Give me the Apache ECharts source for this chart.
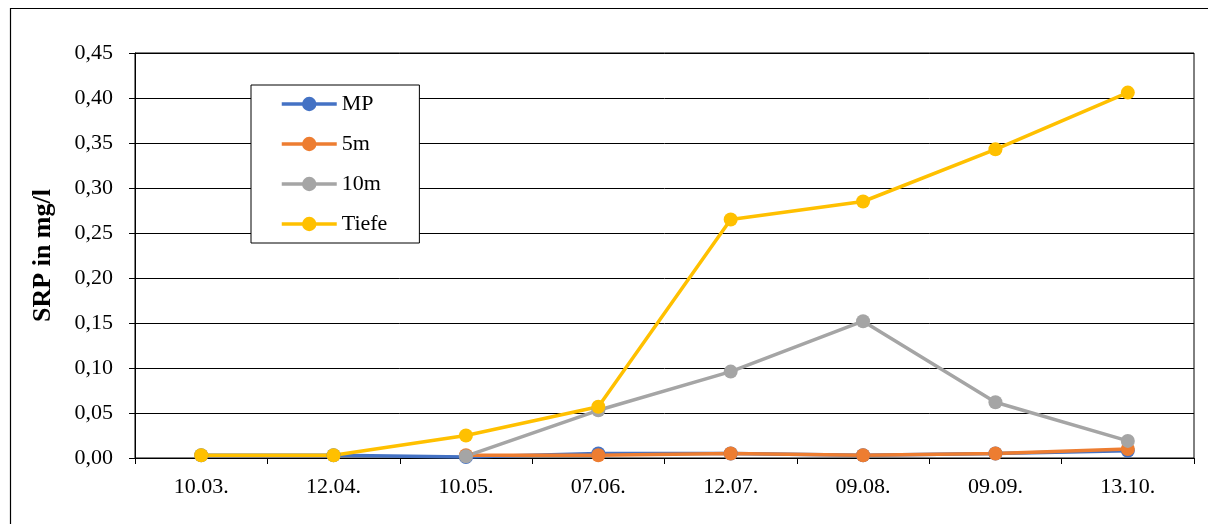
<!DOCTYPE html>
<html>
<head>
<meta charset="utf-8">
<script src="https://cdn.jsdelivr.net/npm/echarts@6/dist/echarts.min.js"></script>
<style>
html,body{margin:0;padding:0;background:#fff;}
#c{width:1208px;height:524px;}
</style>
</head>
<body>
<div id="c"></div>
<script>
const categories = ['10.03.', '12.04.', '10.05.', '07.06.', '12.07.', '09.08.', '09.09.', '13.10.'];
const mpValues    = [0.003, 0.003, 0.001, 0.005, 0.005, 0.003, 0.005, 0.008];
const m5Values    = [null, null, 0.003, 0.003, 0.005, 0.003, 0.005, 0.010];
const m10Values   = [null, null, 0.002, 0.053, 0.096, 0.152, 0.062, 0.019];
const tiefeValues = [0.003, 0.003, 0.025, 0.057, 0.265, 0.285, 0.343, 0.406];
const yTicks = [0, 0.05, 0.10, 0.15, 0.20, 0.25, 0.30, 0.35, 0.40, 0.45];

const font = 'Liberation Serif, Times New Roman, serif';
const chart = echarts.init(document.getElementById('c'), null, {renderer: 'canvas'});

function mk(name, data, color) {
  return {
    name: name, type: 'line', data: data, color: color,
    symbol: 'circle', symbolSize: 14, connectNulls: false,
    lineStyle: {width: 3.5, color: color},
    itemStyle: {color: color},
    animation: false
  };
}

chart.setOption({
  animation: false,
  backgroundColor: '#fff',
  grid: {left: 135, right: 14, top: 53, bottom: 66, show: true, borderColor: '#000', borderWidth: 1},
  graphic: [{
    type: 'rect', z: -1,
    shape: {x: 10.5, y: 8.5, width: 1210, height: 530},
    style: {fill: 'none', stroke: '#000', lineWidth: 1.2}
  }],
  legend: {
    left: 251, top: 85, orient: 'vertical',
    backgroundColor: '#fff', borderColor: '#000', borderWidth: 1,
    padding: [8, 32, 8, 29], itemWidth: 55, itemHeight: 18, itemGap: 18,
    lineStyle: {width: 3.5},
    textStyle: {fontFamily: font, fontSize: 22, lineHeight: 22, color: '#000'},
    data: ['MP', '5m', '10m', 'Tiefe']
  },
  xAxis: {
    type: 'category', data: categories, boundaryGap: true,
    axisLine: {lineStyle: {color: '#000', width: 1}},
    axisTick: {show: true, length: 6, interval: 0, lineStyle: {color: '#000'}},
    axisLabel: {fontFamily: font, fontSize: 22, color: '#000', margin: 18, interval: 0},
    splitLine: {show: false}
  },
  yAxis: {
    type: 'value', min: 0, max: 0.45, interval: 0.05,
    name: 'SRP in mg/l', nameLocation: 'middle', nameGap: 79, nameRotate: 90,
    nameTextStyle: {fontFamily: font, fontSize: 26, fontWeight: 'bold', color: '#000'},
    axisLine: {show: true, lineStyle: {color: '#000', width: 1}},
    axisTick: {show: true, length: 6, lineStyle: {color: '#000'}},
    axisLabel: {fontFamily: font, fontSize: 22, color: '#000', margin: 22,
      formatter: v => yTicks.reduce((a, t) => Math.abs(t - v) < 1e-9 ? t : a, v).toFixed(2).replace('.', ',')},
    splitLine: {show: true, lineStyle: {color: '#000', width: 1}}
  },
  series: [
    mk('MP', mpValues, '#4472C4'),
    mk('5m', m5Values, '#ED7D31'),
    mk('10m', m10Values, '#A5A5A5'),
    mk('Tiefe', tiefeValues, '#FFC000')
  ]
});
</script>
</body>
</html>
